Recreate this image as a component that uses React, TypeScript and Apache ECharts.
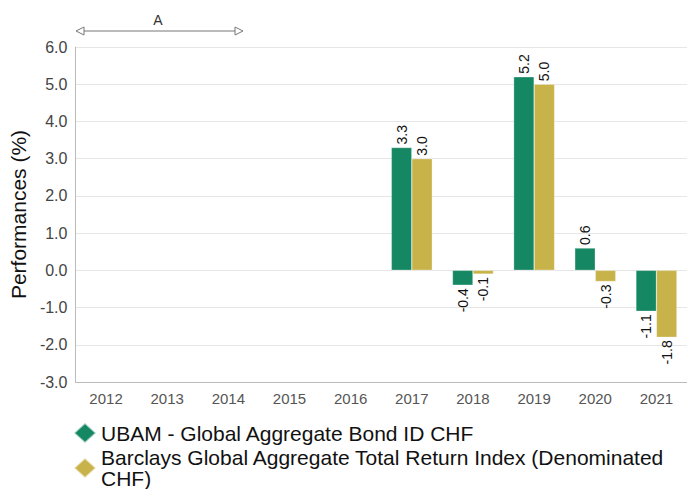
import React, { useEffect, useRef } from "react";
import * as echarts from "echarts";

const years = ["2012", "2013", "2014", "2015", "2016", "2017", "2018", "2019", "2020", "2021"];
const fundName = "UBAM - Global Aggregate Bond ID CHF";
const indexName = "Barclays Global Aggregate Total Return Index (Denominated CHF)";
const fundValues: (number | null)[] = [null, null, null, null, null, 3.3, -0.4, 5.2, 0.6, -1.1];
const indexValues: (number | null)[] = [null, null, null, null, null, 3.0, -0.1, 5.0, -0.3, -1.8];

const GREEN = "#168763";
const GOLD = "#c8b34a";

function makeData(vals: (number | null)[]) {
  return vals.map((v) => {
    if (v === null) return null;
    const neg = v < 0;
    return {
      value: v,
      label: {
        show: true,
        position: neg ? "bottom" : "top",
        rotate: 90,
        align: neg ? "right" : "left",
        verticalAlign: "middle",
        distance: 3,
        fontSize: 14,
        color: "#111",
        fontFamily: "Liberation Sans, Arial, sans-serif",
        formatter: (p: any) => Number(p.value).toFixed(1),
      },
    };
  });
}

export default function App() {
  const ref = useRef<HTMLDivElement>(null);
  useEffect(() => {
    if (!ref.current) return;
    const chart = echarts.init(ref.current, undefined, { renderer: "svg" });
    const font = "Liberation Sans, Arial, sans-serif";
    const legendBase = {
      orient: "vertical",
      left: 73,
      padding: 0,
      icon: "diamond",
      itemWidth: 22,
      itemHeight: 20,
      itemTextGap: 10,
      align: "left",
      textStyle: { fontSize: 21, color: "#111", lineHeight: 21, fontFamily: font },
      formatter: (name: string) => name.replace(" CHF)", "\nCHF)"),
    };
    chart.setOption({
      animation: false,
      textStyle: { fontFamily: font },
      grid: { left: 64, right: -7, top: 47, bottom: 107, containLabel: false },
      xAxis: {
        type: "category",
        data: years,
        axisLine: { show: true, onZero: false, lineStyle: { color: "#bbbbbb" } },
        axisTick: { show: false },
        axisLabel: { fontSize: 15, color: "#555", margin: 9, fontFamily: font },
        splitLine: { show: false },
      },
      yAxis: {
        type: "value",
        min: -3,
        max: 6,
        interval: 1,
        name: "Performances (%)",
        nameLocation: "middle",
        nameGap: 37,
        nameTextStyle: { fontSize: 21, color: "#111", fontFamily: font },
        axisLine: { show: true, lineStyle: { color: "#bbbbbb" } },
        axisTick: { show: false },
        axisLabel: {
          fontSize: 16,
          color: "#444",
          margin: 8,
          fontFamily: font,
          formatter: (v: number) => v.toFixed(1),
        },
        splitLine: { show: true, lineStyle: { color: "#e6e6e6" } },
      },
      legend: [
        { ...legendBase, top: 422, data: [fundName] },
        { ...legendBase, top: 447, data: [indexName] },
      ],
      graphic: [
        {
          type: "line",
          shape: { x1: 80, y1: 31, x2: 240, y2: 31 },
          style: { stroke: "#777", lineWidth: 1 },
        },
        {
          type: "polygon",
          shape: { points: [[76, 31], [84, 27], [84, 35]] },
          style: { fill: "#fff", stroke: "#777", lineWidth: 1 },
        },
        {
          type: "polygon",
          shape: { points: [[243, 31], [235, 27], [235, 35]] },
          style: { fill: "#fff", stroke: "#777", lineWidth: 1 },
        },
        {
          type: "text",
          x: 158,
          y: 20,
          style: {
            text: "A",
            fontSize: 14,
            fill: "#333",
            align: "center",
            verticalAlign: "middle",
            fontFamily: font,
          },
        },
      ],
      series: [
        {
          name: fundName,
          type: "bar",
          data: makeData(fundValues),
          barGap: "0%",
          barCategoryGap: "33%",
          itemStyle: { color: GREEN, borderColor: "rgba(255,255,255,0.6)", borderWidth: 0.5 },
        },
        {
          name: indexName,
          type: "bar",
          data: makeData(indexValues),
          barGap: "0%",
          barCategoryGap: "33%",
          itemStyle: { color: GOLD, borderColor: "rgba(255,255,255,0.6)", borderWidth: 0.5 },
        },
      ],
    });
    return () => chart.dispose();
  }, []);
  return <div ref={ref} style={{ width: 687, height: 489, position: "absolute", left: 0, top: 0 }} />;
}
